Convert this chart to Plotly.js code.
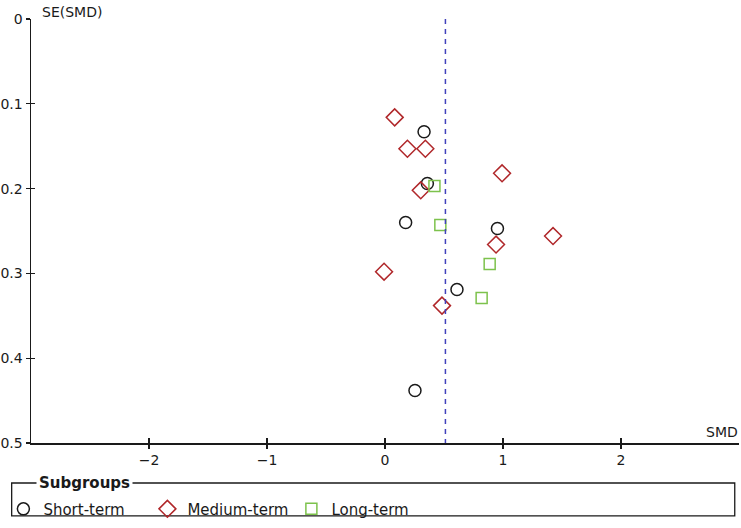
<!DOCTYPE html>
<html>
<head>
<meta charset="utf-8">
<script src="https://cdn.plot.ly/plotly-3.0.1.min.js"></script>
<style>html,body{margin:0;padding:0;background:#fff;}#chart{width:741px;height:528px;}</style>
</head>
<body>
<div id="chart"></div>
<script>
// Short-term subgroup (SMD, SE)
const shortSMD = [0.331, 0.359, 0.175, 0.953, 0.610, 0.254];
const shortSE  = [0.133, 0.194, 0.240, 0.247, 0.319, 0.438];
// Medium-term subgroup
const mediumSMD = [0.082, 0.190, 0.342, 0.992, 0.303, 1.424, 0.941, -0.008, 0.483];
const mediumSE  = [0.116, 0.153, 0.153, 0.182, 0.202, 0.256, 0.266, 0.298, 0.338];
// Long-term subgroup
const longSMD = [0.419, 0.469, 0.887, 0.819];
const longSE  = [0.197, 0.243, 0.289, 0.329];
// Pooled effect (dashed line)
const pooledSMD = [0.512, 0.512];
const pooledSE  = [0, 0.5];
// Ticks
const xTicks = [-2, -1, 0, 1, 2];
const yTicks = [0, 0.1, 0.2, 0.3, 0.4, 0.5];
const xRange = [-3, 3];
const yRange = [0.5, 0];

const font = "DejaVu Sans, sans-serif";

const traces = [
  {x: pooledSMD, y: pooledSE, xaxis: 'x2', yaxis: 'y2', mode: 'lines', showlegend: false, hoverinfo: 'skip',
   line: {color: '#4040bb', width: 1.5, dash: '5px,5px'}},
  {x: shortSMD, y: shortSE, mode: 'markers', name: 'Short-term',
   marker: {symbol: 'circle-open', size: 12, color: '#1a1a1a', line: {width: 1.5, color: '#1a1a1a'}}},
  {x: mediumSMD, y: mediumSE, mode: 'markers', name: 'Medium-term',
   marker: {symbol: 'diamond-open', size: 13, color: '#b0272a', line: {width: 1.5, color: '#b0272a'}}},
  {x: longSMD, y: longSE, mode: 'markers', name: 'Long-term',
   marker: {symbol: 'square-open', size: 11, color: '#7dc24c', line: {width: 1.5, color: '#7dc24c'}}}
];

const layout = {
  width: 741, height: 528,
  margin: {l: 31, r: 2, t: 19, b: 76, pad: 0},
  paper_bgcolor: '#fff', plot_bgcolor: '#fff',
  font: {family: font, size: 14, color: '#1a1a1a'},
  showlegend: true,
  xaxis: {range: xRange, tickvals: xTicks, ticks: 'outside', ticklen: 4, tickwidth: 1.2, tickcolor: '#1a1a1a',
          showline: true, linecolor: '#1a1a1a', linewidth: 1.5, showgrid: false, zeroline: false,
          tickfont: {family: font, size: 14, color: '#1a1a1a'}},
  yaxis: {range: yRange, tickvals: yTicks, ticks: 'outside', ticklen: 4, tickwidth: 1.2, tickcolor: '#1a1a1a',
          showline: true, linecolor: '#1a1a1a', linewidth: 1.5, showgrid: false, zeroline: false,
          tickfont: {family: font, size: 14, color: '#1a1a1a'}},
  xaxis2: {overlaying: 'x', anchor: 'y2', side: 'bottom', range: xRange, tickvals: xTicks, ticks: 'inside', ticklen: 5,
           tickwidth: 1.2, tickcolor: '#1a1a1a', showticklabels: false, showline: false, showgrid: false, zeroline: false},
  yaxis2: {overlaying: 'y', anchor: 'x2', side: 'left', range: yRange, tickvals: yTicks, ticks: 'inside', ticklen: 4,
           tickwidth: 1.2, tickcolor: '#1a1a1a', showticklabels: false, showline: false, showgrid: false, zeroline: false},
  legend: {orientation: 'h', x: -0.039, xanchor: 'left', y: -0.117, yanchor: 'top',
           font: {family: font, size: 15, color: '#1a1a1a'}, bgcolor: 'rgba(0,0,0,0)', borderwidth: 0,
           entrywidth: 99, entrywidthmode: 'pixels', itemclick: false},
  shapes: [
    {type: 'rect', xref: 'paper', yref: 'paper', x0: -0.0273, x1: 0.994, y0: -0.1717, y1: -0.0943,
     line: {color: '#1a1a1a', width: 1.3}, fillcolor: 'rgba(0,0,0,0)', layer: 'below'}
  ],
  annotations: [
    {text: '<b>Subgroups</b>', xref: 'paper', yref: 'paper', x: 0.0071, y: -0.0943, xanchor: 'left', yanchor: 'middle',
     showarrow: false, bgcolor: '#fff', borderpad: 2, font: {family: font, size: 15, color: '#1a1a1a'}},
    {text: 'SE(SMD)', xref: 'paper', yref: 'paper', x: 0.0127, y: 1.016, xanchor: 'left', yanchor: 'middle',
     showarrow: false, font: {family: font, size: 14, color: '#1a1a1a'}},
    {text: 'SMD', xref: 'paper', yref: 'paper', x: 1.0014, y: 0.027, xanchor: 'right', yanchor: 'middle',
     showarrow: false, font: {family: font, size: 14, color: '#1a1a1a'}}
  ]
};

Plotly.newPlot('chart', traces, layout, {staticPlot: true, displayModeBar: false});
</script>
</body>
</html>
